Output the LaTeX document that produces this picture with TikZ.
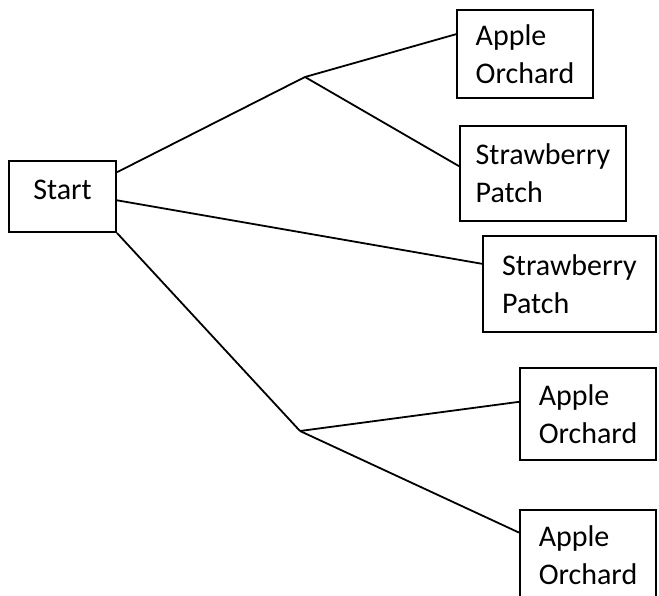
\documentclass[tikz,border=0pt]{standalone}
\usepackage{fontspec}
\setmainfont{Carlito}
\usetikzlibrary{positioning}

\begin{document}
\begin{tikzpicture}[
    x=1pt, y=-1pt,
    box/.style={draw, rectangle, line width=2pt, align=left, inner sep=0pt,
                font=\fontsize{30}{38}\selectfont},
    branch/.style={line width=1.8pt}
]
\useasboundingbox (0,0) rectangle (659,596);

% Start box
\node[box, minimum width=107pt, minimum height=71pt, text depth=13pt] (start) at (62.5,196.5) {Start};

% Outcome boxes
\node[box, minimum width=136pt, minimum height=88pt] (apple1) at (525,54) {Apple\\Orchard};
\node[box, minimum width=166pt, minimum height=95pt] (straw1) at (543,173.5) {Strawberry\\Patch};
\node[box, minimum width=173pt, minimum height=96pt] (straw2) at (569.5,284) {Strawberry\\Patch};
\node[box, minimum width=136pt, minimum height=92pt] (apple2) at (588,414) {Apple\\Orchard};
\node[box, minimum width=136pt, minimum height=90pt] (apple3) at (588,555) {Apple\\Orchard};

% Branch points
\coordinate (fork1) at (305,77);
\coordinate (fork2) at (300,431);

% Branches
\draw[branch] (start.24) -- (fork1);
\draw[branch] (fork1) -- (apple1.164);
\draw[branch] (fork1) -- (straw1.175.5);
\draw[branch] (start.-4) -- (straw2.167.6);
\draw[branch] (start.south east) -- (fork2);
\draw[branch] (fork2) -- (apple2.170);
\draw[branch] (fork2) -- (apple3.162);

\end{tikzpicture}
\end{document}
